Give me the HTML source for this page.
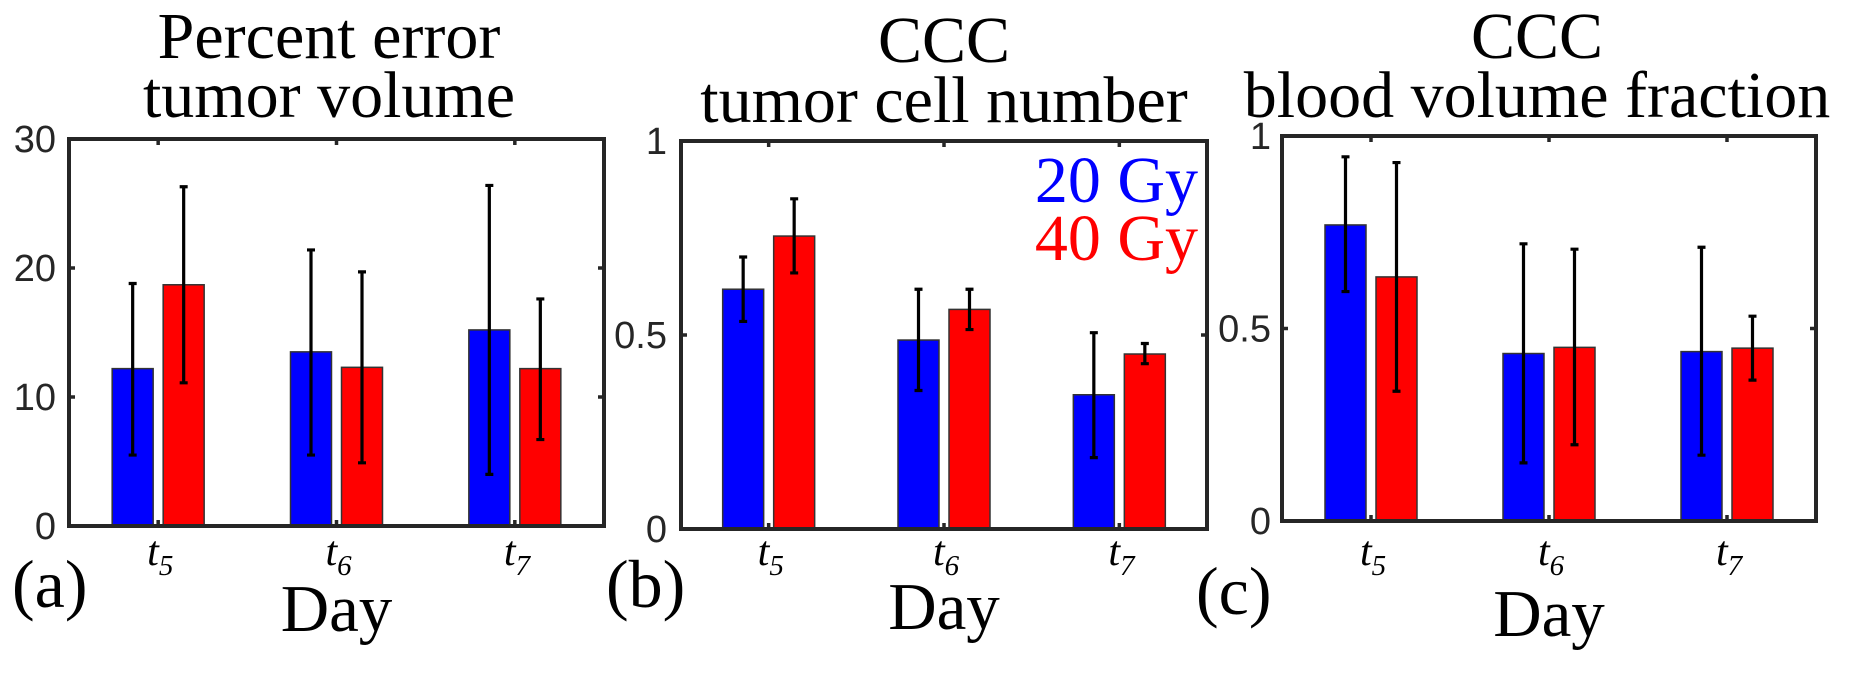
<!DOCTYPE html>
<html><head><meta charset="utf-8">
<style>
html,body{margin:0;padding:0;background:#fff;}
svg{display:block;}
.title{font-family:"Liberation Serif",serif;font-size:66px;fill:#000;}
.tick{font-family:"Liberation Sans",sans-serif;font-size:38px;fill:#262626;}
.xl{font-family:"Liberation Serif",serif;font-style:italic;font-size:42px;fill:#000;}
.xs{font-family:"Liberation Serif",serif;font-style:italic;font-size:29px;}
.day{font-family:"Liberation Serif",serif;font-size:67px;fill:#000;}
.pl{font-family:"Liberation Serif",serif;font-size:68px;fill:#000;}
.leg{font-family:"Liberation Serif",serif;font-size:66px;}
</style></head>
<body>
<svg id="fig" width="1860" height="676" viewBox="0 0 1860 676" xmlns="http://www.w3.org/2000/svg">
<text class="title" x="329" y="58" text-anchor="middle">Percent error</text>
<text class="title" x="329" y="117" text-anchor="middle">tumor volume</text>
<text class="title" x="944" y="62" text-anchor="middle">CCC</text>
<text class="title" x="944" y="122" text-anchor="middle">tumor cell number</text>
<text class="title" x="1537" y="58" text-anchor="middle">CCC</text>
<text class="title" x="1537" y="117" text-anchor="middle">blood volume fraction</text>
<text class="pl" x="12" y="607">(a)</text>
<text class="pl" x="606" y="607">(b)</text>
<text class="pl" x="1196" y="614">(c)</text>
<text class="leg" x="1198" y="202" text-anchor="end" fill="#0000ff">20 Gy</text>
<text class="leg" x="1198" y="260" text-anchor="end" fill="#ff0000">40 Gy</text>
</svg>
<script>
const categories = ["5", "6", "7"];
// panel a: percent error tumor volume
const aBlue = [12.2, 13.5, 15.2];
const aBlueLo = [5.5, 5.5, 4.0];
const aBlueHi = [18.8, 21.4, 26.4];
const aRed = [18.7, 12.3, 12.2];
const aRedLo = [11.1, 4.9, 6.7];
const aRedHi = [26.3, 19.7, 17.6];
const aTicks = [0, 10, 20, 30];
const aTickLabels = ["0", "10", "20", "30"];
// panel b: CCC tumor cell number
const bBlue = [0.618, 0.487, 0.346];
const bBlueLo = [0.535, 0.357, 0.184];
const bBlueHi = [0.701, 0.618, 0.506];
const bRed = [0.755, 0.566, 0.451];
const bRedLo = [0.66, 0.514, 0.426];
const bRedHi = [0.851, 0.618, 0.478];
const bTicks = [0, 0.5, 1];
const bTickLabels = ["0", "0.5", "1"];
// panel c: CCC blood volume fraction
const cBlue = [0.769, 0.435, 0.44];
const cBlueLo = [0.596, 0.151, 0.171];
const cBlueHi = [0.946, 0.72, 0.711];
const cRed = [0.634, 0.451, 0.449];
const cRedLo = [0.337, 0.198, 0.366];
const cRedHi = [0.931, 0.706, 0.532];
const cTicks = [0, 0.5, 1];
const cTickLabels = ["0", "0.5", "1"];

const NS = "http://www.w3.org/2000/svg";
const svg = document.getElementById("fig");
function mk(tag, attrs, parent) {
  const e = document.createElementNS(NS, tag);
  for (const k in attrs) e.setAttribute(k, attrs[k]);
  (parent || svg).appendChild(e);
  return e;
}
function panel(id, L, R, T, B, ymax, blue, blueLo, blueHi, red, redLo, redHi, ticks, tickLabels, labelRight, dayY) {
  const g = mk("g", {});
  
  
  const y = v => B - (v / ymax) * (B - T);
  const n = categories.length;
  const step = (R - L) / n;
  const x = i => L + step * (i + 0.5);
  const bw = 41, off = 25.5;
  for (let i = 0; i < n; i++) {
    const series = [[blue, blueLo, blueHi, "#0000ff", -off, "blue"], [red, redLo, redHi, "#ff0000", off, "red"]];
    for (const s of series) {
      const cx = x(i) + s[4];
      const r = mk("rect", {x: cx - bw / 2, y: y(s[0][i]), width: bw, height: B - y(s[0][i]), fill: s[3], stroke: "#333", "stroke-width": 1.5}, g);
      
      
      const eb = mk("path", {d: "M" + cx + " " + y(s[1][i]) + "V" + y(s[2][i]) + "M" + (cx - 4) + " " + y(s[1][i]) + "H" + (cx + 4) + "M" + (cx - 4) + " " + y(s[2][i]) + "H" + (cx + 4), stroke: "#000", "stroke-width": 3.2, fill: "none"}, g);
      
      
    }
  }
  const box = mk("rect", {x: L, y: T, width: R - L, height: B - T, fill: "none", stroke: "#262626", "stroke-width": 4}, g);
  
  
  for (let k = 0; k < ticks.length; k++) {
    const ty = y(ticks[k]);
    mk("path", {d: "M" + L + " " + ty + "h6M" + R + " " + ty + "h-6", stroke: "#262626", "stroke-width": 3.5}, g);
    const t = mk("text", {x: labelRight, y: ty + 13, "text-anchor": "end", class: "tick"}, g);
    
    
    t.textContent = tickLabels[k];
  }
  for (let i = 0; i < n; i++) {
    mk("path", {d: "M" + x(i) + " " + B + "v-6M" + x(i) + " " + T + "v6", stroke: "#262626", "stroke-width": 3.5}, g);
    const t = mk("text", {x: x(i) - 11, y: 565, class: "xl"}, g);
    
    
    t.appendChild(document.createTextNode("t"));
    const sub = mk("tspan", {class: "xs", dy: 10}, t);
    sub.textContent = categories[i];
  }
  const d = mk("text", {x: (L + R) / 2, y: dayY, "text-anchor": "middle", class: "day"}, g);
  
  
  d.textContent = "Day";
}
panel("a", 69, 604, 139, 526, 30, aBlue, aBlueLo, aBlueHi, aRed, aRedLo, aRedHi, aTicks, aTickLabels, 56, 631);
panel("b", 681, 1207, 141, 529, 1, bBlue, bBlueLo, bBlueHi, bRed, bRedLo, bRedHi, bTicks, bTickLabels, 667, 629);
panel("c", 1282, 1816, 136, 521, 1, cBlue, cBlueLo, cBlueHi, cRed, cRedLo, cRedHi, cTicks, cTickLabels, 1271, 636);
</script>
</body></html>
